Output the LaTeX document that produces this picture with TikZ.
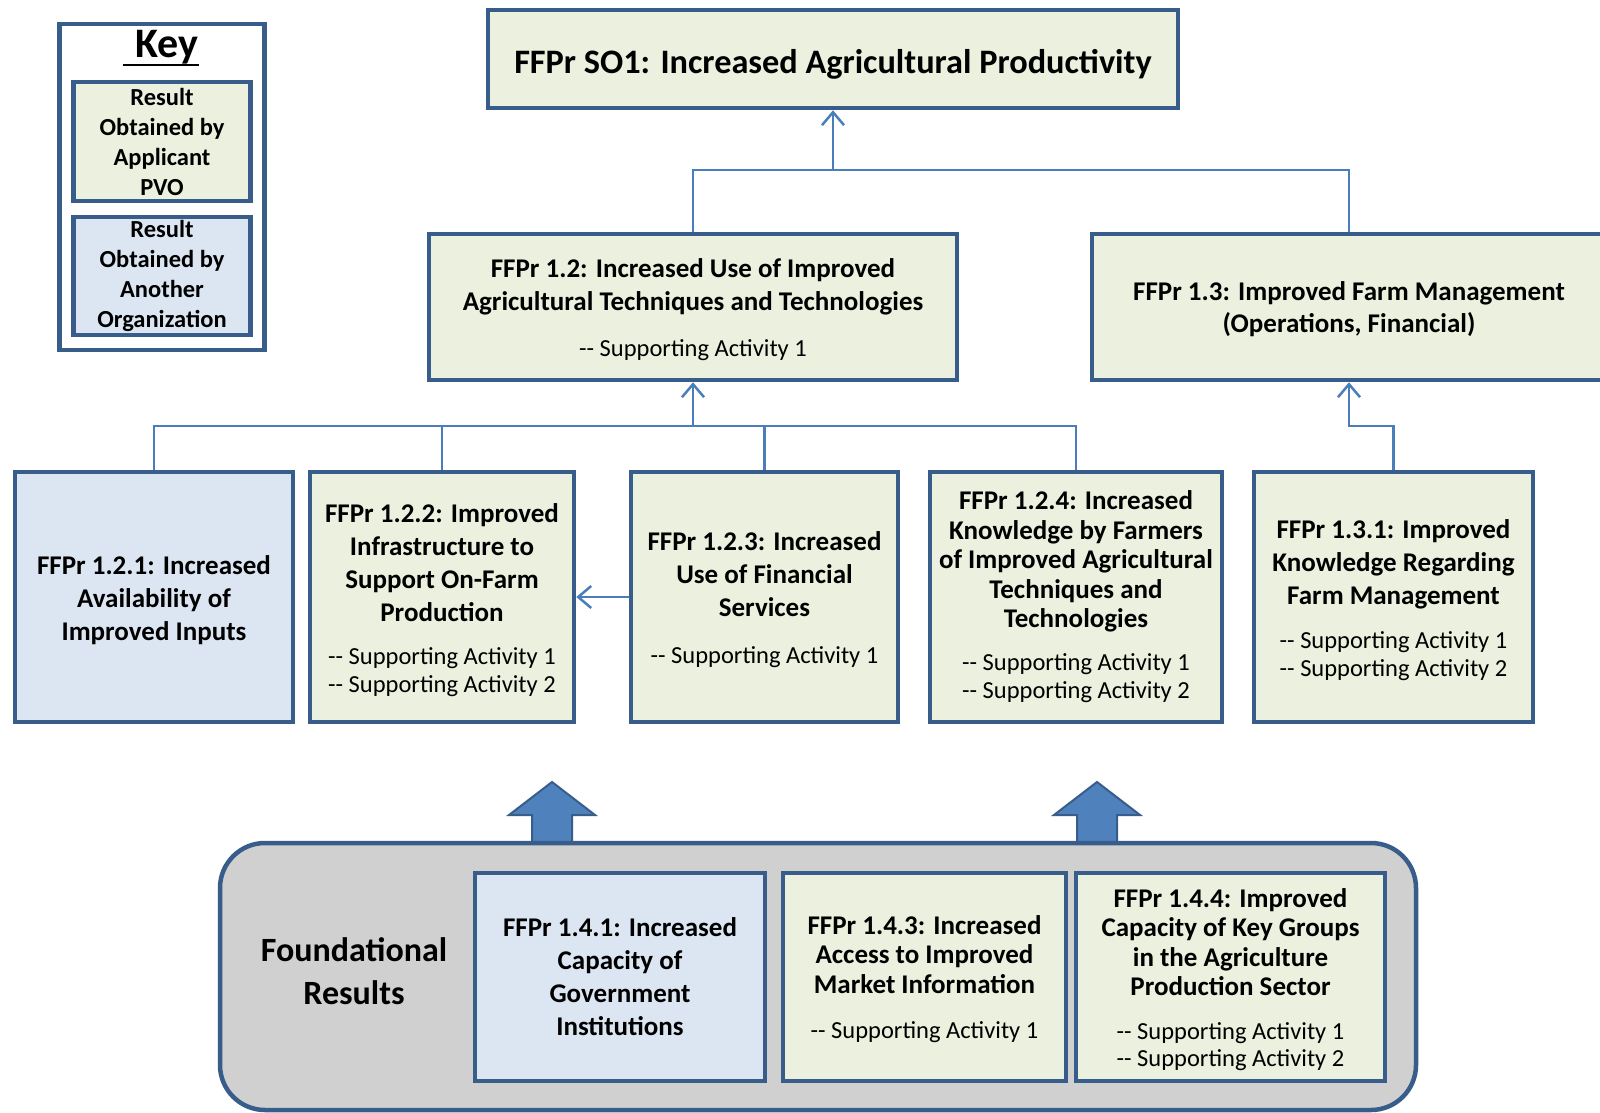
\documentclass[tikz,border=0pt]{standalone}
\usepackage{fontspec}
\setmainfont{Carlito}
\usetikzlibrary{arrows.meta}
\definecolor{bordc}{HTML}{385D8A}
\definecolor{linec}{HTML}{4A7EBB}
\definecolor{greenf}{HTML}{EBF1DE}
\definecolor{bluef}{HTML}{DCE6F2}
\definecolor{grayf}{HTML}{D0D0D0}
\definecolor{barf}{HTML}{4F81BD}
\newcommand\bodyfont{\fontsize{27}{33}\selectfont\bfseries}
\newcommand\tightfont{\fontsize{27}{29.5}\selectfont\bfseries}
\newcommand\keyfont{\fontsize{24.5}{30}\selectfont\bfseries}
\newcommand\safont{\fontsize{24.5}{28}\selectfont\mdseries}
\newcommand\sa[1]{{\safont -{}- Supporting Activity #1}}
\newcommand\dn[1]{\rule{0pt}{\dimexpr\fontcharht\font`d+#1\relax}}
\begin{document}
\begin{tikzpicture}[x=1pt,y=-1pt,
  res/.style={draw=bordc,line width=4.5pt,align=center,inner sep=0pt,font=\bodyfont},
  gres/.style={res,fill=greenf},
  bres/.style={res,fill=bluef},
  conn/.style={draw=linec,line width=2.5pt},
  arr/.style={-{Straight Barb[length=13pt,width=22pt]}},
  barrow/.style={fill=barf,draw=bordc,line width=2pt,line join=miter}]
\useasboundingbox (0,0) rectangle (1600,1113);
\fill[white] (0,0) rectangle (1600,1113);

% Key
\node[draw=bordc,line width=4.5pt,fill=white,minimum width=205pt,minimum height=326pt,inner sep=0pt] (key) at (162,187) {};
\node[font=\fontsize{42}{48}\selectfont\bfseries,inner sep=0pt] (keyt) at (167,47) {Key};
\draw[line width=2.5pt] (123,65) -- (199,65);
\node[gres,font=\keyfont,minimum width=177pt,minimum height=119pt] (kg) at (162,141.5) {Result\\Obtained by\\Applicant\\PVO};
\node[bres,font=\keyfont,minimum width=177pt,minimum height=118pt] (kb) at (162,276) {Result\\Obtained by\\Another\\Organization};

% Top
\node[gres,font=\fontsize{34.3}{40}\selectfont\bfseries,minimum width=690pt,minimum height=98pt] (so1) at (833,59) {\dn{10pt}FFPr SO1: Increased Agricultural Productivity};

\node[gres,minimum width=528pt,minimum height=146pt] (n12) at (693,307) {\dn{6pt}FFPr 1.2: Increased Use of Improved\\Agricultural Techniques and Technologies\\[13pt]\sa{1}};
\node[gres,font=\fontsize{27}{32}\selectfont\bfseries,minimum width=514pt,minimum height=146pt] (n13) at (1349,307) {\dn{5pt}FFPr 1.3: Improved Farm Management\\(Operations, Financial)};

% Row
\node[bres,minimum width=278pt,minimum height=250pt] (n121) at (154,597) {\dn{6pt}FFPr 1.2.1: Increased\\Availability of\\Improved Inputs};
\node[gres,minimum width=264pt,minimum height=250pt] (n122) at (442,597) {\dn{6pt}FFPr 1.2.2: Improved\\Infrastructure to\\Support On-Farm\\Production\\[10pt]\sa{1}\\[-5pt]\sa{2}};
\node[gres,minimum width=267pt,minimum height=250pt] (n123) at (764.5,597) {\dn{6pt}FFPr 1.2.3: Increased\\Use of Financial\\Services\\[14pt]\sa{1}};
\node[gres,font=\tightfont,minimum width=292pt,minimum height=250pt] (n124) at (1076,597) {FFPr 1.2.4: Increased\\Knowledge by Farmers\\of Improved Agricultural\\Techniques and\\Technologies\\[13.5pt]\sa{1}\\[-1.5pt]\sa{2}};
\node[gres,minimum width=279pt,minimum height=250pt] (n131) at (1393.5,597) {\dn{6pt}FFPr 1.3.1: Improved\\Knowledge Regarding\\Farm Management\\[11pt]\sa{1}\\[-5pt]\sa{2}};

% Connectors
\coordinate (j1) at (833,170);
\coordinate (j2) at (693,426);
\draw[conn] (n12.north) |- (j1) -| (n13.north);
\draw[conn,arr] (j1) -- (so1.south);
\draw[conn] (n121.north) |- (n124.north |- j2) -- (n124.north);
\draw[conn] (n122.north) -- (n122.north |- j2);
\draw[conn] (n123.north) -- (n123.north |- j2);
\draw[conn,arr] (j2) -- (n12.south);
\draw[conn,arr] (n131.north) |- (n13.south |- j2) -- (n13.south);
\draw[conn,arr] (n123.west) -- (n122.east);

% Block arrows
\foreach \cx in {552,1097}
  \draw[barrow] (\cx,782) -- (\cx+43,815) -- (\cx+20,815) -- (\cx+20,845) -- (\cx-20,845) -- (\cx-20,815) -- (\cx-43,815) -- cycle;

% Foundational
\node[draw=bordc,line width=4.5pt,fill=grayf,rounded corners=45pt,minimum width=1196pt,minimum height=267pt,inner sep=0pt] (found) at (818,976.5) {};
\node[font=\fontsize{34}{43}\selectfont\bfseries,align=center,inner sep=0pt] (fr) at (354,971) {Foundational\\Results};
\node[bres,minimum width=290pt,minimum height=208pt] (n141) at (620,977) {FFPr 1.4.1: Increased\\Capacity of\\Government\\Institutions};
\node[gres,font=\tightfont,minimum width=283pt,minimum height=208pt] (n143) at (924.5,977) {\dn{4pt}FFPr 1.4.3: Increased\\Access to Improved\\Market Information\\[15.5pt]\sa{1}};
\node[gres,font=\tightfont,minimum width=309pt,minimum height=208pt] (n144) at (1230.5,977) {\dn{5pt}FFPr 1.4.4: Improved\\Capacity of Key Groups\\in the Agriculture\\Production Sector\\[14.5pt]\sa{1}\\[-2.5pt]\sa{2}};
\end{tikzpicture}
\end{document}
